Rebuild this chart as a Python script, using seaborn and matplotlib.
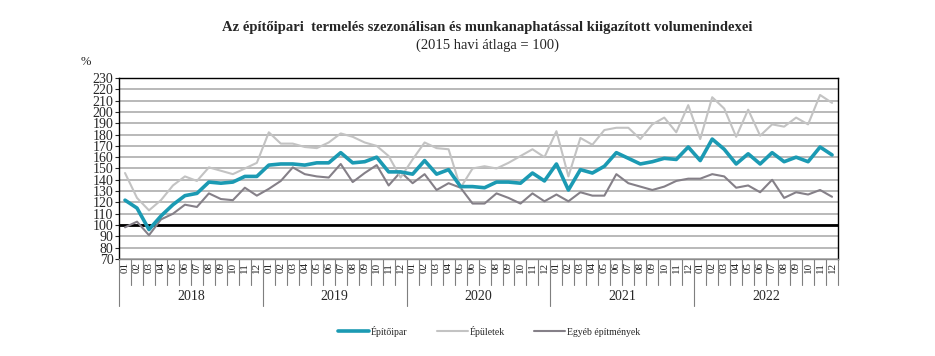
import matplotlib
matplotlib.use("Agg")
import matplotlib.pyplot as plt
import seaborn as sns
import pandas as pd

# --- Data (2015 monthly average = 100) ---
years = ["2018", "2019", "2020", "2021", "2022"]
months = ["01", "02", "03", "04", "05", "06", "07", "08", "09", "10", "11", "12"]

epitoipar = [122, 115, 96, 108, 118, 126, 128, 138, 137, 138, 143, 143,
             153, 154, 154, 153, 155, 155, 164, 155, 156, 160, 147, 147,
             145, 157, 145, 149, 134, 134, 133, 138, 138, 137, 146, 139,
             154, 131, 149, 146, 152, 164, 159, 154, 156, 159, 158, 169,
             157, 176, 167, 154, 163, 154, 164, 156, 160, 156, 169, 162]

epuletek = [146, 124, 113, 122, 135, 143, 139, 151, 148, 145, 150, 155,
            182, 172, 172, 169, 168, 173, 181, 178, 173, 170, 161, 142,
            158, 173, 168, 167, 133, 150, 152, 150, 155, 161, 167, 160,
            183, 143, 177, 171, 184, 186, 186, 176, 189, 195, 182, 206,
            176, 213, 203, 178, 202, 179, 189, 187, 195, 189, 215, 208]

egyeb = [98, 103, 91, 105, 110, 118, 116, 128, 123, 122, 133, 126,
         132, 139, 151, 145, 143, 142, 154, 138, 146, 153, 135, 147,
         137, 145, 131, 137, 133, 119, 119, 128, 124, 119, 128, 121,
         127, 121, 129, 126, 126, 145, 137, 134, 131, 134, 139, 141,
         141, 145, 143, 133, 135, 129, 140, 124, 129, 127, 131, 125]

series_names = ["Építőipar", "Épületek", "Egyéb építmények"]
colors = ["#1b9ab3", "#c3c3c3", "#858088"]
widths = [2.6, 1.5, 1.5]

n = len(epitoipar)
df = pd.DataFrame({
    "idx": list(range(n)) * 3,
    "value": epitoipar + epuletek + egyeb,
    "series": [series_names[0]] * n + [series_names[1]] * n + [series_names[2]] * n,
})

# --- Plot ---
sns.set_style("white")
plt.rcParams["font.family"] = ["Liberation Serif", "DejaVu Serif"]

fig = plt.figure(figsize=(9.35, 3.56), dpi=100)
ax = fig.add_axes([0.1273, 0.2725, 0.769, 0.5084])

for y in range(70, 240, 10):
    ax.axhline(y, color="#a6a6a6", lw=1.1, zorder=0)
ax.axhline(100, color="black", lw=2.0, zorder=1)

# draw in reverse so teal is on top
for name, c, w in list(zip(series_names, colors, widths))[::-1]:
    sns.lineplot(data=df[df["series"] == name], x="idx", y="value", ax=ax,
                 color=c, lw=w, label=name, zorder=3)

ax.set_xlim(-0.5, n - 0.5)
ax.set_ylim(70, 230)
ax.set_yticks(range(70, 240, 10))
ax.tick_params(axis="y", labelsize=10, length=3, width=0.8, pad=1, direction="out", left=True)
ax.set_xticks(range(n))
ax.set_xticklabels(months * len(years), rotation=90, fontsize=8)
ax.tick_params(axis="x", length=0, pad=2)
ax.set_xlabel("")
ax.set_ylabel("")

for s in ax.spines.values():
    s.set_color("black")
    s.set_linewidth(1.0)
ax.spines["bottom"].set_color("#8c8c8c")

# category separators below the axis
trans = ax.get_xaxis_transform()
for i in range(n + 1):
    x = i - 0.5
    bottom = -0.26 if i % 12 == 0 and i < n else -0.145
    ax.plot([x, x], [0, bottom], transform=trans, color="#7f7f7f", lw=0.8, clip_on=False)
for k, yr in enumerate(years):
    ax.text(k * 12 + 5.5, -0.21, yr, transform=trans, ha="center", va="center", fontsize=10)

# titles
fig.text(0.521, 0.924, "Az építőipari  termelés szezonálisan és munkanaphatással kiigazított volumenindexei",
         ha="center", va="center", fontsize=10.5, fontweight="bold")
fig.text(0.521, 0.873, "(2015 havi átlaga = 100)", ha="center", va="center", fontsize=10.5)
fig.text(0.092, 0.826, "%", ha="center", va="center", fontsize=9)

# legend in original order
handles, labels = ax.get_legend_handles_labels()
order = [labels.index(s) for s in series_names]
ax.legend([handles[i] for i in order], [labels[i] for i in order],
          loc="center", bbox_to_anchor=(0.515, -0.40), ncol=3, frameon=False,
          fontsize=7, handlelength=3.2, handletextpad=0.2, columnspacing=3.0)

fig.savefig("out.png", dpi=100)
